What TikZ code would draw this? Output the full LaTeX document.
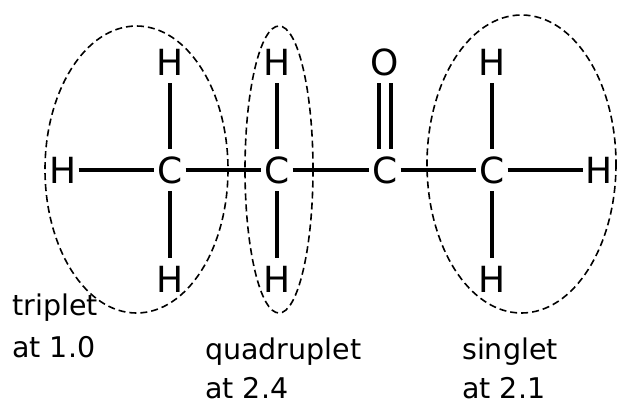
\documentclass[tikz,border=0pt]{standalone}
\usepackage{fontspec}
\setmainfont{DejaVu Sans}
\begin{document}
\begin{tikzpicture}[x=1pt,y=-1pt,
  atom/.style={inner sep=0pt, minimum width=31pt, minimum height=42pt, font=\fontsize{36}{36}\selectfont},
  bond/.style={line width=3.3pt},
  dbond/.style={line width=3.3pt, double, double distance=8.7pt},
  grp/.style={draw, line width=1.6pt, dash pattern=on 7pt off 4pt},
  lbl/.style={inner sep=0pt, anchor=base west, font=\fontsize{28.5}{28.5}\selectfont}]
\useasboundingbox (0,0) rectangle (617,405);
% atoms
\node[atom] (hl) at (63,170) {H};
\node[atom] (c1) at (170,170) {C};
\node[atom] (h1t) at (170,62) {H};
\node[atom] (h1b) at (170,279) {H};
\node[atom] (c2) at (277,170) {C};
\node[atom] (h2t) at (277,62) {H};
\node[atom] (h2b) at (277,279) {H};
\node[atom] (c3) at (385,170) {C};
\node[atom] (o) at (385,62) {O};
\node[atom] (c4) at (492,170) {C};
\node[atom] (h4t) at (492,62) {H};
\node[atom] (h4b) at (492,279) {H};
\node[atom] (hr) at (599,170) {H};
% bonds
\draw[bond] (hl) -- (c1);
\draw[bond] (c1) -- (c2);
\draw[bond] (c2) -- (c3);
\draw[bond] (c3) -- (c4);
\draw[bond] (c4) -- (hr);
\draw[bond] (c1) -- (h1t);
\draw[bond] (c1) -- (h1b);
\draw[bond] (c2) -- (h2t);
\draw[bond] (c2) -- (h2b);
\draw[bond] (c4) -- (h4t);
\draw[bond] (c4) -- (h4b);
\draw[dbond] (c3) -- (o);
% groups
\draw[grp] (136.5,169.5) ellipse [x radius=91.5, y radius=143.5];
\draw[grp] (279,169.5) ellipse [x radius=34, y radius=143.5];
\draw[grp] (521.5,164) ellipse [x radius=94.5, y radius=149];
% labels
\node[lbl] (t1) at (12,315) {triplet};
\node[lbl] (t2) at (12,357) {at 1.0};
\node[lbl] (q1) at (205,359) {quadruplet};
\node[lbl] (q2) at (205,398) {at 2.4};
\node[lbl] (s1) at (462,359) {singlet};
\node[lbl] (s2) at (462,398) {at 2.1};
\end{tikzpicture}
\end{document}
